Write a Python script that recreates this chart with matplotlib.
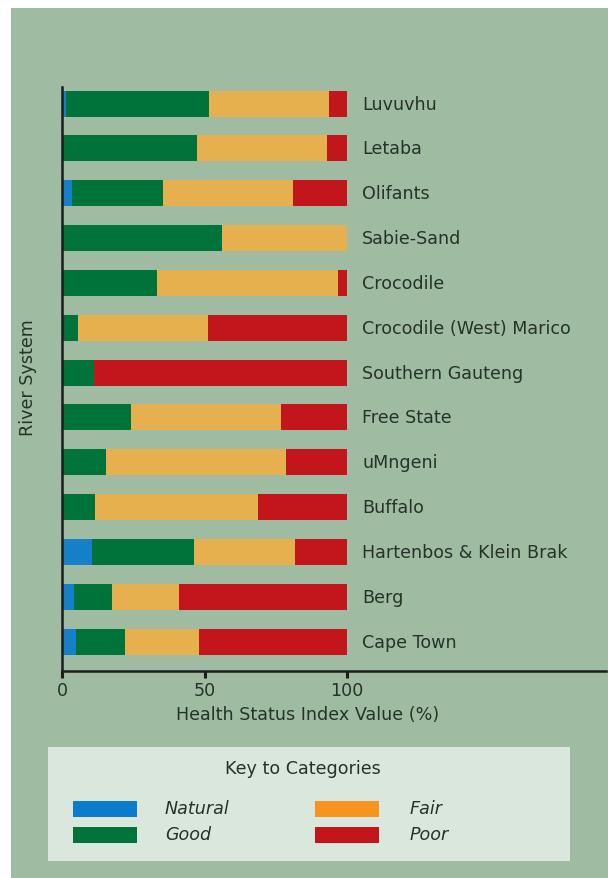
import matplotlib
matplotlib.use("Agg")
import matplotlib.pyplot as plt
from matplotlib.patches import Rectangle
import numpy as np

rivers = ["Luvuvhu", "Letaba", "Olifants", "Sabie-Sand", "Crocodile",
          "Crocodile (West) Marico", "Southern Gauteng", "Free State",
          "uMngeni", "Buffalo", "Hartenbos & Klein Brak", "Berg", "Cape Town"]
natural = [1.4, 0, 3.4, 0, 0, 0, 0, 0, 0, 0, 10.2, 4.0, 4.8]
good = [50.0, 47.3, 31.9, 56.0, 33.2, 5.4, 11.0, 24.0, 15.2, 11.3, 36.1, 13.4, 17.2]
fair = [42.2, 45.4, 45.6, 44.0, 63.4, 45.6, 0, 52.8, 63.2, 57.5, 35.2, 23.5, 25.8]
poor = [6.4, 7.3, 19.1, 0, 3.4, 49.0, 89.0, 23.2, 21.6, 31.2, 18.5, 59.1, 52.2]
xticks = [0, 50, 100]
categories = ["Natural", "Good", "Fair", "Poor"]

bar_colors = ["#1580c8", "#00733a", "#e6b04e", "#c3161c"]
key_colors = ["#0b7bcb", "#00733a", "#f7941d", "#c3161c"]
bg = "#9fbba2"
txt = "#263328"
FS = 12.6

W, H = 608, 879
fig = plt.figure(figsize=(W / 100, H / 100), dpi=100, facecolor="white")
fig.patches.append(Rectangle((11 / W, 0), 1 - 11 / W, 1 - 9 / H,
                             transform=fig.transFigure, facecolor=bg,
                             edgecolor="none", zorder=-10))

def fx(px):
    return px / W

def fy(py):
    return 1 - py / H

ax = fig.add_axes([fx(62.5), fy(672), fx(606) - fx(62.5), fy(88) - fy(672)])
ax.set_facecolor("none")
ax.set_zorder(5)

n = len(rivers)
y = np.arange(n)[::-1]
left = np.zeros(n)
for vals, col in zip([natural, good, fair, poor], bar_colors):
    vals = np.array(vals)
    ax.barh(y, vals, left=left, height=0.58, color=col, edgecolor="none", zorder=2)
    left += vals

ax.set_xlim(0, (606 - 62.5) / 2.848)
ax.set_ylim(-0.654, n - 1 + 0.37)

for yi, name in zip(y, rivers):
    ax.text(105.2, yi, name, ha="left", va="center", fontsize=FS, color=txt)

for s in ["top", "right"]:
    ax.spines[s].set_visible(False)
for s in ["left", "bottom"]:
    ax.spines[s].set_linewidth(1.8)
    ax.spines[s].set_color("#1c1c1c")
ax.set_yticks([])
ax.set_xticks(xticks)
ax.set_xticklabels([str(t) for t in xticks], fontsize=FS, color=txt)
ax.tick_params(axis="x", direction="out", length=5, width=2.2, color="#1c1c1c", pad=2)

fig.text(fx(28), fy(378), "River System", rotation=90, ha="center", va="center",
         fontsize=FS, color=txt)
fig.text(fx(308), fy(715), "Health Status Index Value (%)", ha="center", va="center",
         fontsize=FS, color=txt)

# Key box
fig.patches.append(Rectangle((fx(48), fy(862)), fx(570) - fx(48), fy(748) - fy(862),
                             transform=fig.transFigure, facecolor="#d9e7dc",
                             edgecolor="none", zorder=1))
fig.text(fx(303), fy(769), "Key to Categories", ha="center", va="center",
         fontsize=FS, color=txt)
pos = [(73, 802, 165), (73, 828, 165), (315, 802, 410), (315, 828, 410)]
for (px, py, tx), cat, col in zip(pos, categories, key_colors):
    fig.patches.append(Rectangle((fx(px), fy(py + 16)), fx(64), 16 / H,
                                 transform=fig.transFigure, facecolor=col,
                                 edgecolor="none", zorder=2))
    fig.text(fx(tx), fy(py + 7), cat, ha="left", va="center", fontsize=FS,
             style="italic", color=txt)

fig.savefig("out.png", dpi=100, facecolor="white")
